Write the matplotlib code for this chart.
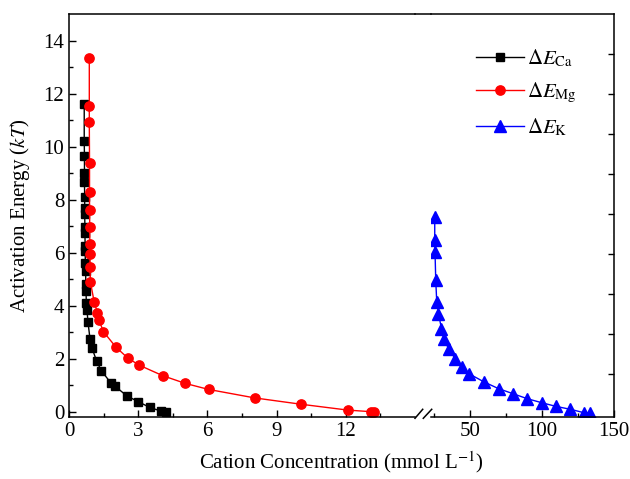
import numpy as np
import matplotlib
matplotlib.use("Agg")
import matplotlib.pyplot as plt
from matplotlib.lines import Line2D

plt.rcParams['font.family'] = ['Liberation Serif', 'DejaVu Serif']
plt.rcParams['mathtext.fontset'] = 'stix'

# activation energy vs concentration, one array pair per cation
ca_conc = [0.66, 0.66, 0.67, 0.67, 0.67, 0.68, 0.68, 0.68, 0.69, 0.69, 0.70, 0.70,
           0.71, 0.72, 0.73, 0.74, 0.75, 0.78, 0.82, 0.91, 1.0, 1.2, 1.4, 1.8,
           2.0, 2.5, 3.0, 3.5, 4.0, 4.2]
ca_energy = [11.6, 10.2, 9.65, 9.0, 8.65, 8.1, 7.7, 7.45, 6.95, 6.75, 6.25, 6.05,
             5.6, 5.3, 4.8, 4.55, 4.1, 3.85, 3.4, 2.75, 2.4, 1.9, 1.55, 1.1,
             0.96, 0.6, 0.38, 0.16, 0.02, -0.02]

mg_conc = [0.88, 0.88, 0.88, 0.89, 0.89, 0.89, 0.90, 0.90, 0.91, 0.91, 0.93, 1.09,
           1.23, 1.30, 1.49, 2.04, 2.54, 3.03, 4.06, 5.03, 6.05, 8.05, 10.07, 12.09,
           13.1, 13.23]
mg_energy = [13.35, 11.52, 10.92, 9.38, 8.29, 7.61, 6.98, 6.33, 5.95, 5.45, 4.88, 4.15,
             3.74, 3.46, 3.02, 2.43, 2.03, 1.76, 1.36, 1.07, 0.84, 0.52, 0.28, 0.06,
             0.0, -0.01]

k_conc = [25.6, 25.6, 25.8, 26.3, 27.0, 28.2, 30.3, 31.9, 35.2, 39.8, 44.4, 49.5,
          60, 70, 80, 90, 100, 110, 120, 129.6, 133.6]
k_energy = [7.35, 6.47, 6.03, 4.96, 4.14, 3.70, 3.13, 2.75, 2.38, 2.0, 1.69, 1.43,
            1.12, 0.87, 0.68, 0.49, 0.34, 0.2, 0.09, -0.04, -0.04]

left_ticks = [0, 3, 6, 9, 12]
right_ticks = [50, 100, 150]
y_ticks = [0, 2, 4, 6, 8, 10, 12, 14]
# the mirrored right axis carries its own unlabelled tick marks
mirror_ticks = [1.43, 2.94, 4.45, 5.96, 7.47, 8.98, 10.49, 12.0, 13.51]

W, H = 630, 479
fig = plt.figure(figsize=(6.3, 4.79), dpi=100)

y0, y1 = 417, 14
ax1 = fig.add_axes([69 / W, (H - y0) / H, (415 - 69) / W, (y0 - y1) / H])
ax2 = fig.add_axes([431 / W, (H - y0) / H, (613.5 - 431) / W, (y0 - y1) / H])

ax1.plot(ca_conc, ca_energy, '-s', color='black', lw=1, ms=6, label=r'$\Delta E_{\mathrm{Ca}}$')
ax1.plot(mg_conc, mg_energy, '-o', color='red', lw=1, ms=6.7, label=r'$\Delta E_{\mathrm{Mg}}$')
ax2.plot(k_conc, k_energy, '-^', color='blue', lw=1, ms=8, label=r'$\Delta E_{\mathrm{K}}$')

for ax in (ax1, ax2):
    ax.set_ylim(-0.2, 15)
    for s in ax.spines.values():
        s.set_linewidth(1.1)
    ax.tick_params(direction='in', which='major', length=5, width=1, labelsize=15)
    ax.tick_params(direction='in', which='minor', length=3, width=1)

ax1.set_xlim(0, 15)
ax1.set_xticks(left_ticks)
ax1.set_xticks(np.arange(1.5, 15, 3), minor=True)
ax1.set_yticks(y_ticks)
ax1.set_yticks(np.arange(1, 15, 2), minor=True)
ax1.spines['right'].set_visible(False)
ax1.tick_params(which='both', right=False, top=False)

ax2.set_xlim(23, 150)
ax2.set_xticks(right_ticks)
ax2.set_xticks([25, 75, 125], minor=True)
ax2.spines['left'].set_visible(False)
ax2.yaxis.tick_right()
ax2.set_yticks(mirror_ticks)
ax2.set_yticks([], minor=True)
ax2.tick_params(axis='y', labelright=False, length=4)
ax2.tick_params(which='both', top=False)

ax1.set_ylabel('Activation Energy ($kT$)', fontsize=15, labelpad=8)
fig.text(341 / W, 1 - 462 / H, 'Cation Concentration (mmol L$^{-1}$)',
         fontsize=15, ha='center', va='center')

# continuous top border and the // break on the bottom axis
def px_line(x, y):
    fig.add_artist(Line2D([v / W for v in x], [1 - v / H for v in y],
                          color='black', lw=1.1))

px_line([415, 431], [14, 14])
px_line([415, 422.7], [418.3, 409.3])
px_line([423.3, 431.7], [418.3, 409.3])

handles = ax1.get_legend_handles_labels()
h2 = ax2.get_legend_handles_labels()
fig.legend(handles[0] + h2[0], handles[1] + h2[1], loc='upper left',
           bbox_to_anchor=(457 / W, 1 - 29 / H), frameon=False, fontsize=15,
           handlelength=2.3, labelspacing=0.55, handletextpad=0.15)

fig.savefig('out.png', dpi=100)
